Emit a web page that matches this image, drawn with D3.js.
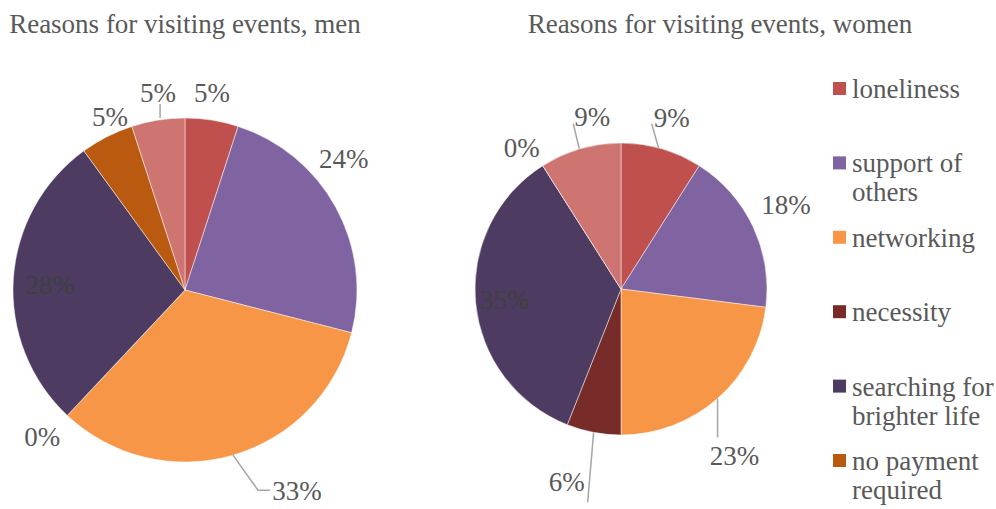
<!DOCTYPE html>
<html>
<head>
<meta charset="utf-8">
<script src="https://cdn.jsdelivr.net/npm/d3@7"></script>
<style>
  html, body { margin: 0; padding: 0; background: #fff; }
  svg { display: block; }
</style>
</head>
<body>
<svg id="chart" width="996" height="509"></svg>
<script>
// Reasons for visiting events, share of respondents (%)
const categories = ["loneliness", "support of others", "networking", "necessity",
                    "searching for brighter life", "no payment required", "other"];
const menValues   = [5, 24, 33, 0, 28, 5, 5];
const womenValues = [9, 18, 23, 6, 35, 0, 9];
const titles = ["Reasons for visiting events, men", "Reasons for visiting events, women"];
const legendLines = [["loneliness"], ["support of", "others"], ["networking"], ["necessity"],
                     ["searching for", "brighter life"], ["no payment", "required"]];

const colors = ["#C0504D", "#8064A2", "#F79646", "#772C2A", "#4D3B62", "#BA5A10", "#CE7471"];
const textColor = "#595959";
const fontFamily = "\"Liberation Serif\"";
const fontSize = 27;

// Pie placement and label layout (label offsets are relative to the slice's rim midpoint)
const pies = [
  {
    values: menValues, title: titles[0], cx: 185, cy: 290, r: 172, titleX: 185,
    labels: [
      { off: [0, -27] }, { off: [8, -48] },
      { off: [64, 36], leader: [[0, 0], [25, 35], [37, 35]] },
      { off: [-25, 22] }, { off: [37, 6], inside: true }, { off: [3, -20] },
      { off: [0, -27], leader: [[2, -2], [2, -16]] }
    ]
  },
  {
    values: womenValues, title: titles[1], cx: 621, cy: 289, r: 146, titleX: 720,
    labels: [
      { off: [10, -31], leader: [[-3, 0], [-10, -25]] },
      { off: [33, -22] },
      { off: [17, 57], leader: [[0, 0], [0, 39]] },
      { off: [-27, 50], leader: [[0, 0], [-6, 70]] },
      { off: [29, -3], inside: true },
      { off: [-21, -18] },
      { off: [12, -32], leader: [[-1, 0], [-7, -25]] }
    ]
  }
];

const svg = d3.select("#chart");
const pie = d3.pie().sort(null).value(d => d);

pies.forEach(p => {
  const g = svg.append("g").attr("transform", `translate(${p.cx},${p.cy})`);
  const arcs = pie(p.values);
  const arc = d3.arc().innerRadius(0).outerRadius(p.r);

  g.selectAll("path.slice")
    .data(arcs)
    .join("path")
    .attr("class", "slice")
    .attr("d", arc)
    .attr("fill", (d, i) => colors[i])
    .attr("stroke", "#ffffff")
    .attr("stroke-opacity", 0.6)
    .attr("stroke-width", 0.8);

  arcs.forEach((a, i) => {
    const mid = (a.startAngle + a.endAngle) / 2;
    const rx = p.r * Math.sin(mid), ry = -p.r * Math.cos(mid);
    const lab = p.labels[i];
    if (lab.leader) {
      g.append("path")
        .attr("d", d3.line()(lab.leader.map(q => [rx + q[0], ry + q[1]])))
        .attr("fill", "none")
        .attr("stroke", "#A6A6A6")
        .attr("stroke-width", 1.5);
    }
    g.append("text")
      .attr("x", rx + lab.off[0])
      .attr("y", ry + lab.off[1])
      .attr("text-anchor", "middle")
      .attr("dominant-baseline", "central")
      .style("font-family", fontFamily)
      .attr("font-size", fontSize)
      .attr("fill", lab.inside ? "#3F3F3F" : textColor)
      .text(a.data + "%");
  });

  svg.append("text")
    .attr("x", p.titleX)
    .attr("y", 33)
    .attr("text-anchor", "middle")
    .style("font-family", fontFamily)
    .attr("font-size", fontSize)
    .attr("fill", textColor)
    .text(p.title);
});

// Legend
const legendY = d3.scalePoint()
  .domain(legendLines.map((d, i) => i))
  .range([89, 461]);
const leg = svg.append("g");
legendLines.forEach((lines, i) => {
  const y = legendY(i);
  leg.append("rect")
    .attr("x", 833).attr("y", y - 7)
    .attr("width", 13).attr("height", 13)
    .attr("fill", colors[i]);
  const t = leg.append("text")
    .attr("x", 852)
    .attr("y", y + 9)
    .style("font-family", fontFamily)
    .attr("font-size", fontSize)
    .attr("fill", textColor);
  lines.forEach((ln, j) => {
    t.append("tspan").attr("x", 852).attr("dy", j === 0 ? 0 : 29).text(ln);
  });
});
</script>
</body>
</html>
